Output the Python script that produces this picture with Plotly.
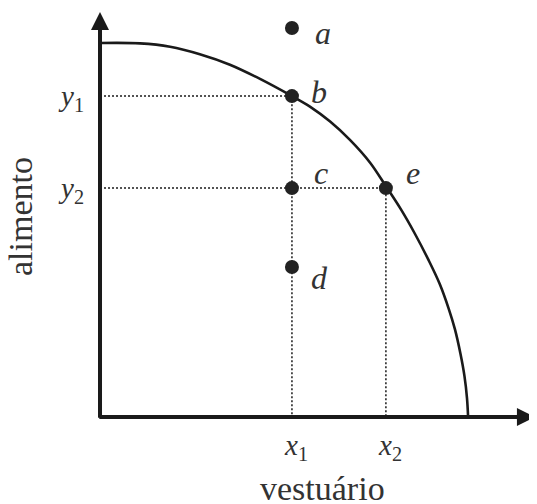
import plotly.graph_objects as go

# frontier (vestuário, alimento)
curve_x = [0, 1.09, 1.91, 2.72, 3.54, 4.36, 5.23, 5.72, 6.27, 6.81, 7.36, 7.79, 8.2, 8.58,
           8.95, 9.26, 9.5, 9.67, 9.82, 9.93, 10.0, 10.03]
curve_y = [10, 9.99, 9.9, 9.7, 9.42, 9.04, 8.58, 8.3, 7.9, 7.41, 6.8, 6.17, 5.55, 4.9,
           4.2, 3.55, 2.9, 2.35, 1.7, 1.1, 0.5, 0]

# levels on the axes
x1, x2 = 5.23, 7.79
y1, y2 = 8.58, 6.12

# labelled points
point_names = ["a", "b", "c", "d", "e"]
point_x = [x1, x1, x1, x1, x2]
point_y = [10.4, y1, y2, 4.01, y2]

x_tick_labels = ["<i>x</i><sub>1</sub>", "<i>x</i><sub>2</sub>"]
y_tick_labels = ["<i>y</i><sub>1</sub>", "<i>y</i><sub>2</sub>"]

FONT = "Liberation Serif"
INK = "#1a1a1a"
TXT = "#333333"

fig = go.Figure()

# dotted guides
guide = dict(color=INK, width=1.5, dash="2px,2px")
fig.add_trace(go.Scatter(x=[0, x1, x1], y=[y1, y1, 0], mode="lines", line=guide, hoverinfo="skip"))
fig.add_trace(go.Scatter(x=[0, x2, x2], y=[y2, y2, 0], mode="lines", line=guide, hoverinfo="skip"))

# frontier
fig.add_trace(go.Scatter(x=curve_x, y=curve_y, mode="lines",
                         line=dict(color=INK, width=2.6, shape="spline", smoothing=1.0),
                         hoverinfo="skip"))

# points
fig.add_trace(go.Scatter(x=point_x, y=point_y, mode="markers",
                         marker=dict(size=14, color="#222222"), hoverinfo="skip"))

# axes with arrow heads
fig.add_annotation(x=0, y=10.83, ax=0, ay=-0.06, xref="x", yref="y", axref="x", ayref="y",
                   showarrow=True, arrowhead=2, arrowsize=0.9, arrowwidth=4, arrowcolor=INK, text="")
fig.add_annotation(x=11.85, y=0, ax=-0.06, ay=0, xref="x", yref="y", axref="x", ayref="y",
                   showarrow=True, arrowhead=2, arrowsize=0.9, arrowwidth=4, arrowcolor=INK, text="")

# point letters
offsets = {"a": (0.85, -0.13), "b": (0.75, 0.1), "c": (0.8, 0.4), "d": (0.75, -0.3), "e": (0.75, 0.4)}
for n, px, py in zip(point_names, point_x, point_y):
    dx, dy = offsets[n]
    fig.add_annotation(x=px + dx, y=py + dy, xref="x", yref="y", text="<i>%s</i>" % n,
                       showarrow=False, font=dict(family=FONT, size=32, color=TXT))

# axis level labels
for lab, xv in zip(x_tick_labels, [x1, x2]):
    fig.add_annotation(x=xv + 0.1, y=-0.8, xref="x", yref="y", text=lab, showarrow=False,
                       font=dict(family=FONT, size=29, color=TXT))
for lab, yv in zip(y_tick_labels, [y1, y2]):
    fig.add_annotation(x=-0.8, y=yv - 0.05, xref="x", yref="y", text=lab, showarrow=False,
                       font=dict(family=FONT, size=29, color=TXT))

# axis titles
fig.add_annotation(x=6.05, y=-1.9, xref="x", yref="y", text="vestuário", showarrow=False,
                   font=dict(family=FONT, size=34, color=TXT))
fig.add_annotation(x=-2.15, y=5.35, xref="x", yref="y", text="alimento", showarrow=False, textangle=-90,
                   font=dict(family=FONT, size=34, color=TXT))

# the page body adds an 8px offset, so the ranges are shifted to compensate
fig.update_layout(
    width=537, height=504,
    margin=dict(l=0, r=0, t=0, b=0),
    paper_bgcolor="white", plot_bgcolor="white",
    showlegend=False,
    xaxis=dict(range=[-2.507, 12.125], visible=False, fixedrange=True),
    yaxis=dict(range=[-2.54, 10.936], visible=False, fixedrange=True),
)

fig.write_html("out.html")
